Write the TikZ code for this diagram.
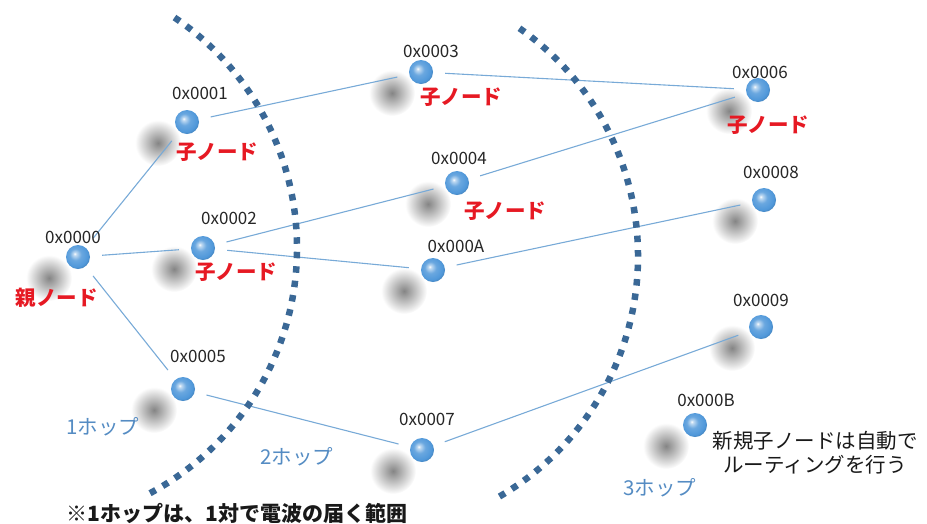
\documentclass[tikz,border=0pt]{standalone}
\usepackage{fontspec}
\setmainfont{Noto Sans CJK JP}
\definecolor{ballblue}{RGB}{80,152,218}
\definecolor{linkblue}{RGB}{120,170,215}
\definecolor{arcblue}{RGB}{58,104,150}
\definecolor{hopblue}{RGB}{85,140,195}
\definecolor{jred}{RGB}{230,25,35}
\pgfdeclareradialshading{glassball}{\pgfpoint{-7bp}{7bp}}{%
  color(0bp)=(white);
  color(3bp)=(ballblue!35!white);
  color(12bp)=(ballblue!85!white);
  color(24bp)=(ballblue);
  color(31bp)=(ballblue!80!black);
  color(50bp)=(ballblue!80!black)}
\pgfdeclarelayer{bg}
\pgfsetlayers{bg,main}
\begin{document}
\begin{tikzpicture}[x=1pt,y=-1pt,
  ball/.style={circle, minimum size=24pt, inner sep=0pt, shade, shading=glassball},
  shadowblob/.style={circle, minimum size=46pt, inner sep=0pt, inner color=black!48, outer color=white},
  link/.style={draw=linkblue, line width=1.1pt, shorten <=12pt, shorten >=12pt},
  hoparc/.style={draw=arcblue, line width=6.5pt, dash pattern=on 6.5pt off 8pt},
  hexlbl/.style={font=\fontsize{17}{20}\selectfont, text=black!85, inner sep=0pt},
  childlbl/.style={font=\fontsize{20.5}{24}\selectfont\bfseries, text=jred, inner sep=0pt},
  hoplbl/.style={font=\fontsize{20.5}{24}\selectfont, text=hopblue, inner sep=0pt},
  notelbl/.style={font=\fontsize{20.5}{24}\selectfont, text=black!90, inner sep=0pt},
  ]
\useasboundingbox (0,0) rectangle (927,523);

% spheres
\node[ball] (n0) at (78,257) {};
\node[ball] (n1) at (187,122) {};
\node[ball] (n2) at (203,248) {};
\node[ball] (n3) at (421,72) {};
\node[ball] (n4) at (457,183) {};
\node[ball] (nA) at (433,270) {};
\node[ball] (n5) at (183,389) {};
\node[ball] (n7) at (422,450) {};
\node[ball] (n6) at (758,90) {};
\node[ball] (n8) at (764,200) {};
\node[ball] (n9) at (761,327) {};
\node[ball] (nB) at (695,425) {};

\begin{pgfonlayer}{bg}
  \foreach \n in {n0,n1,n2,n3,n4,nA,n5,n7,n6,n8,n9,nB}
    \node[shadowblob] (sh\n) at ([shift={(-29,21)}]\n.center) {};
  \draw[link] (n0) -- (n1);
  \draw[link] (n0) -- (n2);
  \draw[link] (n0) -- (n5);
  \draw[link] (n1) -- (n3);
  \draw[link] (n2) -- (n4);
  \draw[link] (n2) -- (nA);
  \draw[link] (n3) -- (n6);
  \draw[link] (n4) -- (n6);
  \draw[link] (nA) -- (n8);
  \draw[link] (n5) -- (n7);
  \draw[link] (n7) -- (n9);
  \coordinate (c1) at (19,248);
  \coordinate (c2) at (360,256);
  \draw[hoparc] (c1) ++(-56:278) arc[start angle=-56, end angle=62, radius=278];
  \draw[hoparc] (c2) ++(-55:278) arc[start angle=-55, end angle=61, radius=278];
\end{pgfonlayer}

% address labels
\node[hexlbl] (l0) at (73,237) {0x0000};
\node[hexlbl] (l1) at (200,93) {0x0001};
\node[hexlbl] (l2) at (229,218) {0x0002};
\node[hexlbl] (l3) at (431,51) {0x0003};
\node[hexlbl] (l4) at (459,158) {0x0004};
\node[hexlbl] (lA) at (456,246) {0x000A};
\node[hexlbl] (l5) at (198,356) {0x0005};
\node[hexlbl] (l7) at (427,419) {0x0007};
\node[hexlbl] (l6) at (760,72) {0x0006};
\node[hexlbl] (l8) at (771,172) {0x0008};
\node[hexlbl] (l9) at (761,300) {0x0009};
\node[hexlbl] (lB) at (706,400) {0x000B};

% role labels
\node[childlbl] (r0) at (57,298) {親ノード};
\node[childlbl] (r1) at (217,152) {子ノード};
\node[childlbl] (r2) at (236,272) {子ノード};
\node[childlbl] (r3) at (461,97) {子ノード};
\node[childlbl] (r4) at (505,211) {子ノード};
\node[childlbl] (r6) at (768,125) {子ノード};

% hop labels
\node[hoplbl] (h1) at (103,427) {1ホップ};
\node[hoplbl] (h2) at (297,457) {2ホップ};
\node[hoplbl] (h3) at (660,488) {3ホップ};

\node[notelbl, align=center] (note) at (815,453) {新規子ノードは自動で\\ルーティングを行う};
\node[notelbl, font=\fontsize{21}{24}\selectfont\bfseries] (foot) at (237,513) {※1ホップは、1対で電波の届く範囲};
\end{tikzpicture}
\end{document}
